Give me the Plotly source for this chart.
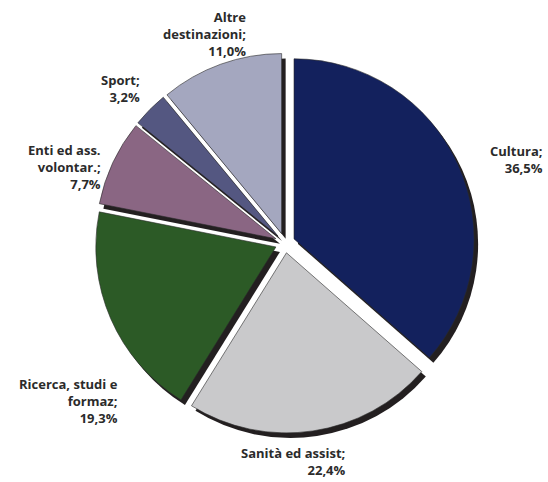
import plotly.graph_objects as go

categories = ["Cultura", "Sanità ed assist", "Ricerca, studi e formaz",
              "Enti ed ass. volontar.", "Sport", "Altre destinazioni"]
values = [36.5, 22.4, 19.3, 7.7, 3.2, 11.0]
colors = ["#13215D", "#C9C9CB", "#2C5A26", "#8A6683", "#545781", "#A4A7BF"]
# label line breaks as in the reference
label_lines = [["Cultura;"], ["Sanità ed assist;"], ["Ricerca, studi e", "formaz;"],
               ["Enti ed ass.", "volontar.;"], ["Sport;"], ["Altre", "destinazioni;"]]

W, H = 548, 482
# label layout (pixel anchors: right edge x, block center y)
label_pos = [(544, 160), (347, 461), (119, 401),
             (102, 167), (141, 88), (247, 34)]

cx, cy, r0 = 285, 243, 190
shadow_dx, shadow_dy = 4, 5

def dom(dx=0, dy=0):
    x0 = (cx - r0 + dx) / W
    x1 = (cx + r0 + dx) / W
    y0 = 1 - (cy + r0 + dy) / H
    y1 = 1 - (cy - r0 + dy) / H
    return dict(x=[x0, x1], y=[y0, y1])

pull = [0.055] * len(values)

fig = go.Figure()
fig.add_trace(go.Pie(
    labels=categories, values=values, sort=False, direction="clockwise",
    rotation=0, pull=pull, textinfo="none", hoverinfo="skip",
    marker=dict(colors=["#231F20"] * len(values), line=dict(width=0)),
    domain=dom(shadow_dx, shadow_dy), showlegend=False,
))
fig.add_trace(go.Pie(
    labels=categories, values=values, sort=False, direction="clockwise",
    rotation=0, pull=pull, textinfo="none",
    marker=dict(colors=colors, line=dict(width=0.6, color="#2a2a2a")),
    domain=dom(), showlegend=False,
))

font = dict(family="Open Sans", size=13, color="#2B2B2B")
for lines, v, (px, py) in zip(label_lines, values, label_pos):
    allines = lines + [f"{v:.1f}".replace(".", ",") + "%"]
    fig.add_annotation(
        x=px / W, y=1 - py / H, xref="paper", yref="paper",
        text="<br>".join(f"<b>{t}</b>" for t in allines),
        showarrow=False, xanchor="right", yanchor="middle", align="right",
        font=font, borderpad=0,
    )

fig.update_layout(
    width=W, height=H, margin=dict(l=0, r=0, t=0, b=0),
    paper_bgcolor="white", plot_bgcolor="white",
)
fig.write_html("out.html", config={"displayModeBar": False},
               post_script="document.body.style.margin='0';document.body.style.overflow='hidden';")
